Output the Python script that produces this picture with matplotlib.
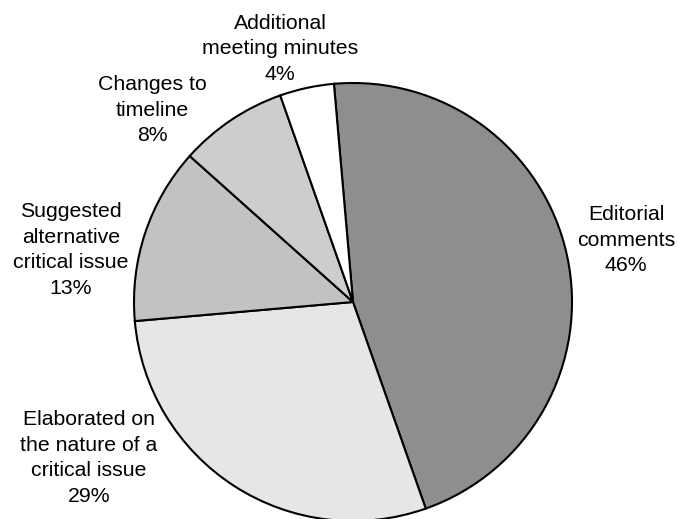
import matplotlib
matplotlib.use("Agg")
import matplotlib.pyplot as plt

# slices, clockwise from the top
labels = ["Editorial\ncomments", "Elaborated on\nthe nature of a\ncritical issue",
          "Suggested\nalternative\ncritical issue", "Changes to\ntimeline",
          "Additional\nmeeting minutes"]
shares = [46, 29, 13, 8, 4]
colors = ["#8e8e8e", "#e6e6e6", "#c2c2c2", "#cdcdcd", "#ffffff"]

# label centres in pixel units (x from left, y from top)
label_x = [626, 89, 71, 152, 280]
label_y = [240, 458, 250, 110, 49]

plt.rcParams['font.family'] = ['Liberation Sans', 'DejaVu Sans']

fig = plt.figure(figsize=(6.77, 5.19), dpi=100)
ax = fig.add_axes([0, 0, 1, 1])

ax.pie(shares, colors=colors, startangle=95, counterclock=False,
       radius=219, center=(353, 519 - 302), frame=True,
       wedgeprops=dict(edgecolor='black', linewidth=1.5))
ax.set_xlim(0, 677)
ax.set_ylim(0, 519)
ax.set_aspect('equal')
ax.axis('off')

for lab, v, x, y in zip(labels, shares, label_x, label_y):
    ax.text(x, 519 - y, f"{lab}\n{v}%", ha='center', va='center',
            fontsize=15.3, linespacing=1.45, color='black')

fig.savefig("out.png", dpi=100)
